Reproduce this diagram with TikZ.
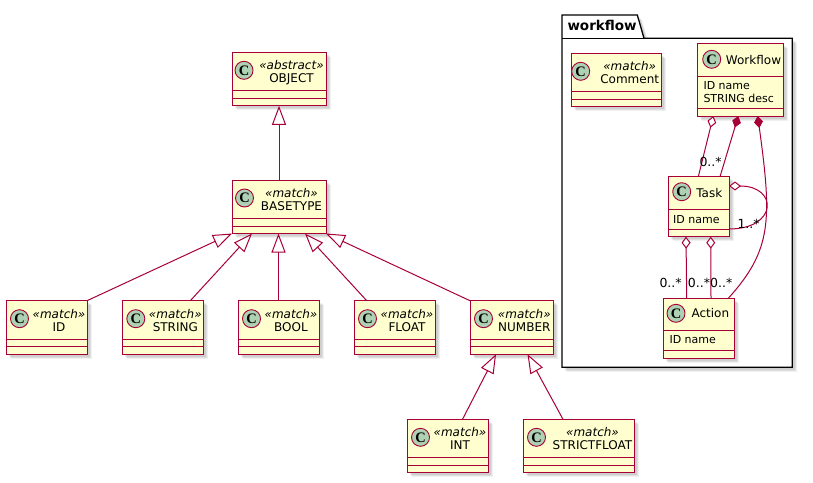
\documentclass[tikz,border=0pt]{standalone}
\usepackage{fontspec}
\setmainfont{DejaVu Sans}
\newfontfamily\badgefont{Liberation Serif}
\usetikzlibrary{arrows.meta,shadows}

\definecolor{umlred}{HTML}{A80036}
\definecolor{umlfill}{HTML}{FEFECE}
\definecolor{umlbadge}{HTML}{ADD1B2}

\tikzset{
  softshadow/.style={
    general shadow={shadow xshift=2.5pt,shadow yshift=-2.5pt,fill=black,opacity=.07},
    general shadow={shadow xshift=3.5pt,shadow yshift=-3.5pt,fill=black,opacity=.07},
    general shadow={shadow xshift=4.5pt,shadow yshift=-4.5pt,fill=black,opacity=.06}},
  cls/.style={rectangle,draw=umlred,fill=umlfill,line width=1pt,inner sep=0pt,
    outer sep=0pt,anchor=north west,softshadow},
  divider/.style={draw=umlred,line width=1pt},
  badge/.style={circle,draw=umlred,fill=umlbadge,line width=0.9pt,minimum size=18pt,
    inner sep=0pt,font=\fontsize{14.5}{14.5}\selectfont\badgefont\bfseries},
  stereo/.style={anchor=base,inner sep=0pt,font=\fontsize{12}{14}\selectfont\itshape},
  clsname/.style={anchor=base,inner sep=0pt,font=\fontsize{12}{14}\selectfont},
  attr/.style={anchor=base west,inner sep=0pt,font=\fontsize{11}{13}\selectfont},
  mult/.style={anchor=base west,inner sep=0pt,font=\fontsize{12.5}{14}\selectfont},
  conn/.style={draw=umlred,line width=1pt},
  inh/.style={conn,-{Triangle[length=19pt,width=14pt,fill=white]}},
  aggstart/.style={conn,{Diamond[length=12pt,width=9pt,fill=white]}-},
  compstart/.style={conn,{Diamond[length=12pt,width=9pt]}-},
  pkg/.style={draw=black,line width=1.3pt,fill=white,line join=miter},
}

% class with stereotype and empty compartments:
% name, left, top, width, badge x offset, text x offset, stereotype, title
\newcommand\stclass[8]{%
  \node[cls,minimum width=#4pt,minimum height=53.5pt] (#1) at (#2,#3) {};
  \draw[divider] ([yshift=-38.5pt]#1.north west) -- ([yshift=-38.5pt]#1.north east);
  \draw[divider] ([yshift=-46pt]#1.north west) -- ([yshift=-46pt]#1.north east);
  \node[badge] (#1-badge) at ([xshift=#5pt,yshift=-18pt]#1.north west) {C};
  \node[stereo] (#1-st) at ([xshift=#6pt,yshift=-17.5pt]#1.north west) {«#7»};
  \node[clsname] (#1-name) at ([xshift=#6pt,yshift=-30.3pt]#1.north west) {#8};
}

\begin{document}
\begin{tikzpicture}[x=1pt,y=-1pt]
\fill[white] (0,0) rectangle (813,482);
\useasboundingbox (0,0) rectangle (813,482);

% package frame
\draw[pkg,softshadow] (562,15) -- (637.3,15) -- (644,38.3) -- (792.3,38.3)
  -- (792.3,367.3) -- (562,367.3) -- cycle;
\draw[pkg,fill=none] (562,38.3) -- (644,38.3);
\node[anchor=base west,inner sep=0pt,font=\fontsize{13.5}{15}\selectfont\bfseries]
  (pkg-title) at (567.3,30) {workflow};

% type hierarchy
\stclass{object}{232}{52.3}{94}{12}{59.5}{abstract}{OBJECT}
\stclass{basetype}{232}{180}{94}{12.5}{59.5}{match}{BASETYPE}
\stclass{id}{6}{300.7}{81}{13.5}{53}{match}{ID}
\stclass{string}{122.3}{300.7}{81}{13.5}{53}{match}{STRING}
\stclass{bool}{238}{300.7}{81}{13.5}{53}{match}{BOOL}
\stclass{float}{354}{300.7}{81}{13.5}{53}{match}{FLOAT}
\stclass{number}{470}{300.7}{83}{13.5}{54.3}{match}{NUMBER}
\stclass{int}{407}{419.3}{81}{13.5}{53}{match}{INT}
\stclass{strictfloat}{523}{419.3}{111}{13.5}{69.5}{match}{STRICTFLOAT}

% workflow package classes
\stclass{comment}{571.7}{53.3}{90}{9}{58}{match}{Comment}

\node[cls,minimum width=86pt,minimum height=72.7pt] (workflow) at (697,43.3) {};
\draw[divider] ([yshift=-33.4pt]workflow.north west) -- ([yshift=-33.4pt]workflow.north east);
\draw[divider] ([yshift=-65pt]workflow.north west) -- ([yshift=-65pt]workflow.north east);
\node[badge] (workflow-badge) at ([xshift=14.7pt,yshift=-16pt]workflow.north west) {C};
\node[clsname] (workflow-name) at ([xshift=56.5pt,yshift=-21pt]workflow.north west) {Workflow};
\node[attr] (workflow-f1) at ([xshift=6.3pt,yshift=-46pt]workflow.north west) {ID name};
\node[attr] (workflow-f2) at ([xshift=6.3pt,yshift=-59.4pt]workflow.north west) {STRING desc};

\node[cls,minimum width=60.7pt,minimum height=60pt] (task) at (668.3,176.7) {};
\draw[divider] ([yshift=-32.6pt]task.north west) -- ([yshift=-32.6pt]task.north east);
\draw[divider] ([yshift=-52.3pt]task.north west) -- ([yshift=-52.3pt]task.north east);
\node[badge] (task-badge) at ([xshift=13.4pt,yshift=-15pt]task.north west) {C};
\node[clsname] (task-name) at ([xshift=41pt,yshift=-20.3pt]task.north west) {Task};
\node[attr] (task-f1) at ([xshift=4.7pt,yshift=-47pt]task.north west) {ID name};

\node[cls,minimum width=71pt,minimum height=60pt] (action) at (663.3,298.3) {};
\draw[divider] ([yshift=-32.4pt]action.north west) -- ([yshift=-32.4pt]action.north east);
\draw[divider] ([yshift=-52.3pt]action.north west) -- ([yshift=-52.3pt]action.north east);
\node[badge] (action-badge) at ([xshift=12.7pt,yshift=-15pt]action.north west) {C};
\node[clsname] (action-name) at ([xshift=47pt,yshift=-19.5pt]action.north west) {Action};
\node[attr] (action-f1) at ([xshift=6pt,yshift=-45.5pt]action.north west) {ID name};

% generalisations
\draw[inh] (basetype) -- (object);
\draw[inh] (id.north east) -- (basetype.south west);
\draw[inh] ([xshift=-13pt]string.north east) -- ([xshift=20pt]basetype.south west);
\draw[inh] (bool.north) -- (bool.north |- basetype.south);
\draw[inh] ([xshift=12.7pt]float.north west) -- ([xshift=-21pt]basetype.south east);
\draw[inh] (number.north west) -- (basetype.south east);
\draw[inh] ([xshift=15pt]int.north) -- ([xshift=-15.5pt]number.south);
\draw[inh] ([xshift=-15.5pt]strictfloat.north) -- ([xshift=16pt]number.south);

% associations inside the package
\draw[aggstart] ([xshift=16.3pt]workflow.south west) -- ([xshift=30pt]task.north west);
\draw[compstart] ([xshift=41.3pt]workflow.south west) -- ([xshift=51.7pt]task.north west);
\draw[compstart] ([xshift=60.7pt]workflow.south west)
  .. controls +(14.3,104) and +(43.7,-48.3) .. ([xshift=65pt]action.north west);
\draw[aggstart] ([yshift=-9.3pt]task.north east)
  .. controls +(49,0) and +(49,0) .. ([yshift=-52.3pt]task.north east);
\draw[aggstart] ([xshift=17.7pt]task.south west) -- ([xshift=23.4pt]action.north west);
\draw[aggstart] ([xshift=42.4pt]task.south west) -- ([xshift=47.7pt]action.north west);

% multiplicities
\node[mult] (m-wt) at (699.3,166.7) {0..*};
\node[mult] (m-self) at (737.3,228.3) {1..*};
\node[mult] (m-ta1) at (659.3,287.3) {0..*};
\node[mult] (m-ta2) at (687.7,287.3) {0..*};
\node[mult] (m-wa) at (710,287.3) {0..*};
\end{tikzpicture}
\end{document}
